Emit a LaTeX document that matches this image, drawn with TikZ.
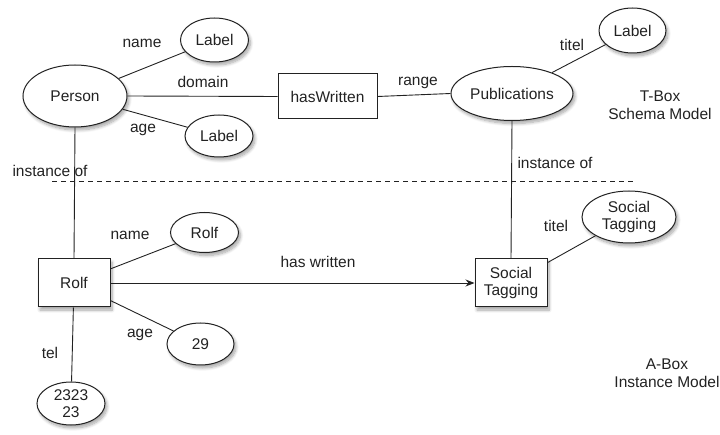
\documentclass[tikz,border=0pt]{standalone}
\usepackage{fontspec}
\setmainfont{Liberation Sans}
\usetikzlibrary{shapes.geometric,arrows.meta,shadows.blur}
\definecolor{ink}{HTML}{222222}
\begin{document}
\begin{tikzpicture}[x=1pt,y=-1pt,
  every node/.style={font=\fontsize{15.5}{17.5}\selectfont,text=ink,align=center,inner sep=0pt},
  shade/.style={blur shadow={shadow blur steps=8,shadow blur radius=3pt,shadow xshift=2pt,shadow yshift=-3pt,shadow opacity=35}},
  cls/.style={ellipse,draw=ink,line width=1pt,fill=white,shade},
  inst/.style={rectangle,draw=ink,line width=1pt,fill=white,shade},
  link/.style={draw=ink,line width=0.9pt}]
\useasboundingbox (0,0) rectangle (720,435);

% schema level (T-Box)
\node[cls,minimum width=104pt,minimum height=62pt] (person) at (75,96) {Person};
\node[cls,minimum width=68pt,minimum height=44pt] (lblname) at (214.5,40) {Label};
\node[cls,minimum width=68pt,minimum height=42pt] (lblage) at (219,136) {Label};
\node[rectangle,draw=ink,line width=1pt,fill=white,minimum width=99pt,minimum height=45pt] (hasw) at (327.5,96.5) {hasWritten};
\node[cls,minimum width=122pt,minimum height=54pt] (pub) at (512,93.5) {Publications};
\node[cls,minimum width=67pt,minimum height=45pt] (lbltitel) at (632.5,30.5) {Label};

% instance level (A-Box)
\node[inst,minimum width=72pt,minimum height=48pt] (rolf) at (74,283) {Rolf};
\node[cls,minimum width=68pt,minimum height=40pt] (rolfname) at (204.5,232.5) {Rolf};
\node[cls,minimum width=67pt,minimum height=42pt] (rolfage) at (200.5,344) {29};
\node[cls,minimum width=68pt,minimum height=43pt] (rolftel) at (71,403.5) {2323\\23};
\node[inst,minimum width=72pt,minimum height=48pt] (st) at (511,283) {Social\\Tagging};
\node[cls,minimum width=94pt,minimum height=52pt] (sttitel) at (629,217) {Social\\Tagging};

% connectors
\draw[link] (person) -- (lblname);
\draw[link] (person) -- (lblage);
\draw[link] (person.east) -- (hasw.west);
\draw[link] (hasw.east) -- (pub.west);
\draw[link] (pub) -- (lbltitel);
\draw[link] (person.south) -- (rolf.north);
\draw[link] (pub.south) -- (st.north);
\draw[link] (rolf) -- (rolfname);
\draw[link] (rolf) -- (rolfage);
\draw[link] (rolf) -- (rolftel);
\draw[link] (st) -- (sttitel);
\draw[link,-{Stealth[length=9pt,width=7pt]}] (rolf.east) -- (st.west);

% boundary between schema and instances
\coordinate (sepL) at (52,181);
\coordinate (sepR) at (633,181);
\draw[ink,line width=0.9pt,dash pattern=on 5pt off 4pt] (sepL) -- (sepR);

% relation labels
\node (tname) at (142,43) {name};
\node (tdomain) at (203,82) {domain};
\node (tage) at (143,130) {age};
\node (trange) at (418,83) {range};
\node (ttitel) at (572,45) {titel};
\node (tinstL) at (50,171) {instance of};
\node (tinstR) at (555,163) {instance of};
\node (aname) at (130,235) {name};
\node (ahas) at (318,262) {has written};
\node (aage) at (140,335) {age};
\node (atel) at (50,353) {tel};
\node (atitel) at (556,226) {titel};

% level captions
\node (tbox) at (660,105) {T-Box\\Schema Model};
\node (abox) at (667,373) {A-Box\\Instance Model};
\end{tikzpicture}
\end{document}
